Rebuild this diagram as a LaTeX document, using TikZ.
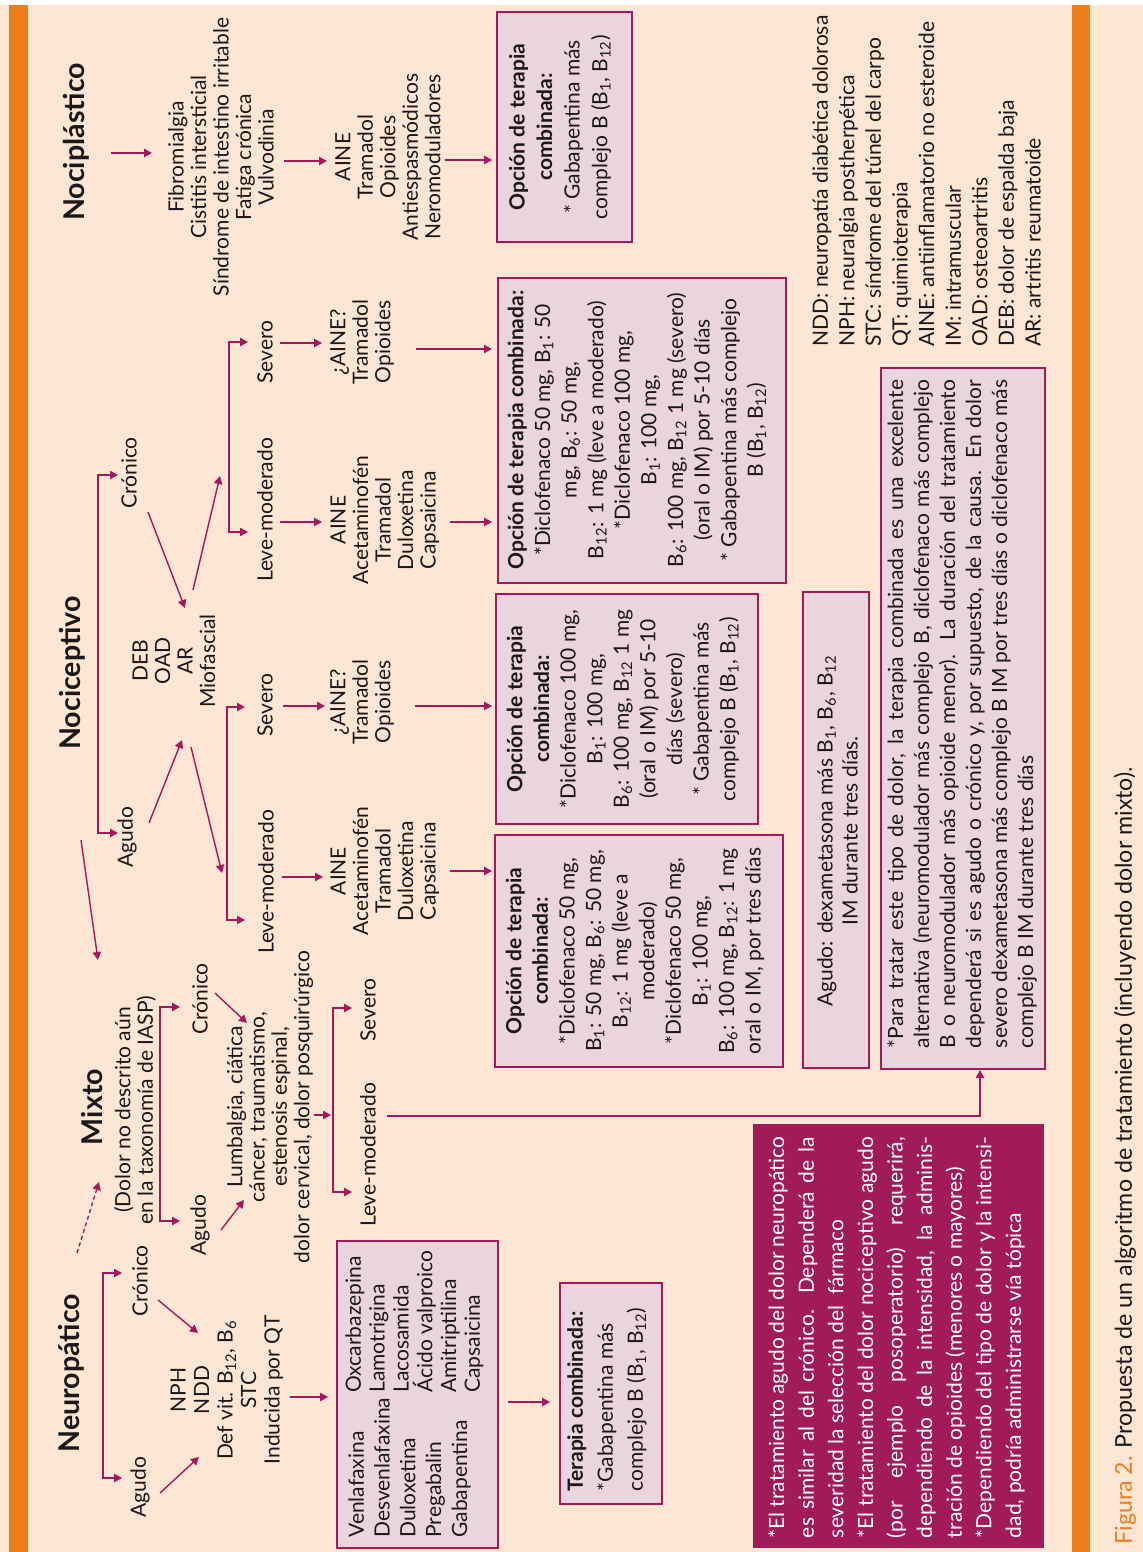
\documentclass[tikz,border=0pt]{standalone}
\usepackage{fontspec}
\setmainfont{Lato}
\usetikzlibrary{arrows.meta}
\definecolor{bgpeach}{RGB}{253,230,212}
\definecolor{orng}{RGB}{238,125,28}
\definecolor{crim}{RGB}{163,25,91}
\definecolor{boxfill}{RGB}{234,212,221}
\definecolor{darkbox}{RGB}{161,26,90}
\definecolor{ink}{RGB}{28,24,25}
\newcommand{\bsub}[1]{B\textsubscript{#1}}
\newcommand{\fsz}[2]{\fontsize{#1}{#2}\selectfont\lineskiplimit-20pt\relax}
\newcommand{\jl}[2]{\makebox[#1][s]{#2}}
\begin{document}
\begin{tikzpicture}[x=0.5pt,y=-0.5pt,
  txt/.style={rotate=90,inner sep=0pt,align=center,text=ink,font=\fsz{10.5}{11.25}},
  boxt/.style={txt,font=\fsz{10.5}{13.3}},
  ttl/.style={rotate=90,inner sep=0pt,text=ink,font=\fsz{14.3}{16}\bfseries},
  frame/.style={rotate=90,draw=crim,line width=1pt,fill=boxfill,inner sep=0pt},
  arr/.style={draw=crim,line width=0.7pt,-{Triangle[length=4pt,width=4.2pt]}},
  arr2/.style={draw=crim,line width=0.7pt,{Triangle[length=4pt,width=4.2pt]}-{Triangle[length=4pt,width=4.2pt]}},
  dsh/.style={arr,dash pattern=on 2pt off 1.5pt},
]
\useasboundingbox (0,0) rectangle (1143,1552);
\fill[white] (0,0) rectangle (1143,1552);
\fill[bgpeach] (0,5) rectangle (1143,1552);
\fill[orng] (9,5) rectangle (28,1552);
\fill[orng] (1072,5) rectangle (1090,1552);

% ---------------- boxes ----------------
\node[frame,minimum width=115pt,minimum height=67.5pt] (bNoci) at (564.5,127) {};
\node[frame,minimum width=152.5pt,minimum height=144pt] (bCron) at (642,430.5) {};
\node[frame,minimum width=115pt,minimum height=131pt] (bAgSev) at (627,709) {};
\node[frame,minimum width=116pt,minimum height=144pt] (bAgLev) at (639,951) {};
\node[frame,minimum width=153.5pt,minimum height=80.5pt] (bNeuro) at (417.5,1394.5) {};
\node[frame,minimum width=110.5pt,minimum height=51pt] (bTer) at (611,1393.5) {};
\node[frame,minimum width=238pt,minimum height=33pt] (bDexa) at (836,830) {};
\node[frame,minimum width=350.5pt,minimum height=82pt] (bNote) at (963,718.5) {};
\node[rotate=90,fill=darkbox,inner sep=0pt,minimum width=212pt,minimum height=145.5pt] (bDark) at (898.5,1336) {};

% ---------------- titles ----------------
\node[ttl] (tNocip) at (76,142) {Nociplástico};
\node[ttl] (tNocic) at (72,673) {Nociceptivo};
\node[ttl] (tMixto) at (92,1107) {Mixto};
\node[ttl] (tNeuro) at (71,1373) {Neuropático};

% ---------------- Nociplástico ----------------
\node[txt] (lNocip) at (221,157) {Fibromialgia\\Cistitis intersticial\\Síndrome de intestino irritable\\Fatiga crónica\\Vulvodinia};
\node[txt] (dNocip) at (388,157) {AINE\\Tramadol\\Opioides\\Antiespasmódicos\\Neromoduladores};
\node[boxt,font=\fsz{10.5}{13.8}] (cNocip) at (560,127) {\textbf{Opción de terapia}\\\textbf{combinada:}\\* Gabapentina más\\complejo B (\bsub{1}, \bsub{12})};

% ---------------- Nociceptivo ----------------
\node[txt] (nCron) at (129,473) {Crónico};
\node[txt] (nAg) at (127,837) {Agudo};
\node[txt] (nDeb) at (174,661) {DEB\\OAD\\AR\\Miofascial};
\node[txt] (nCSev) at (265,352) {Severo};
\node[txt] (nCLev) at (265,510) {Leve-moderado};
\node[txt] (nASev) at (265,705) {Severo};
\node[txt] (nALev) at (266,882) {Leve-moderado};
\node[txt] (nCSevD) at (362,342) {¿AINE?\\Tramadol\\Opioides};
\node[txt] (nCLevD) at (385,520) {AINE\\Acetaminofén\\Tramadol\\Duloxetina\\Capsaicina};
\node[txt] (nASevD) at (362,702) {¿AINE?\\Tramadol\\Opioides};
\node[txt] (nALevD) at (385,871) {AINE\\Acetaminofén\\Tramadol\\Duloxetina\\Capsaicina};
\node[boxt] (cCron) at (637,430) {\textbf{Opción de terapia combinada:}\\*Diclofenaco 50 mg, \bsub{1}: 50\\mg, \bsub{6}: 50 mg,\\\bsub{12}: 1 mg (leve a moderado)\\*Diclofenaco 100 mg,\\\bsub{1}: 100 mg,\\\bsub{6}: 100 mg, \bsub{12} 1 mg (severo)\\(oral o IM) por 5-10 días\\* Gabapentina más complejo\\B (\bsub{1}, \bsub{12})};
\node[boxt] (cAgSev) at (623,709) {\textbf{Opción de terapia}\\\textbf{combinada:}\\*Diclofenaco 100 mg,\\\bsub{1}: 100 mg,\\\bsub{6}: 100 mg, \bsub{12} 1 mg\\(oral o IM) por 5-10\\días (severo)\\* Gabapentina más\\complejo B (\bsub{1}, \bsub{12})};
\node[boxt] (cAgLev) at (635,951) {\textbf{Opción de terapia}\\\textbf{combinada:}\\*Diclofenaco 50 mg,\\\bsub{1}: 50 mg, \bsub{6}: 50 mg,\\\bsub{12}: 1 mg (leve a\\moderado)\\*Diclofenaco 50 mg,\\\bsub{1}: 100 mg,\\\bsub{6}: 100 mg, \bsub{12}: 1 mg\\oral o IM, por tres días};

% ---------------- Mixto ----------------
\node[txt] (mSub) at (135,1110) {(Dolor no descrito aún\\en la taxonomía de IASP)};
\node[txt] (mCron) at (200,999) {Crónico};
\node[txt] (mAg) at (200,1225) {Agudo};
\node[txt,font=\fsz{10.5}{11.15}] (mLumb) at (270,1107) {Lumbalgia, ciática\\cáncer, traumatismo,\\estenosis espinal,\\dolor cervical, dolor posquirúrgico};
\node[txt] (mSev) at (368,1010) {Severo};
\node[txt] (mLev) at (368,1155) {Leve-moderado};

% ---------------- Neuropático ----------------
\node[txt] (eCron) at (140,1281) {Crónico};
\node[txt] (eAg) at (140,1487) {Agudo};
\node[txt,font=\fsz{10.5}{11.75}] (eList) at (227,1390) {NPH\\NDD\\Def vit. \bsub{12}, \bsub{6}\\STC\\Inducida por QT};
\node[txt,align=left,anchor=west,font=\fsz{10.5}{12.9}] (eCol1) at (409.5,1538) {Venlafaxina\\Desvenlafaxina\\Duloxetina\\Pregabalin\\Gabapentina};
\node[txt,align=left,anchor=west,font=\fsz{10.5}{11.9}] (eCol2) at (414.5,1393) {Oxcarbazepina\\Lamotrigina\\Lacosamida\\Ácido valproico\\Amitriptilina\\Capsaicina};
\node[txt,align=left,anchor=west,font=\fsz{10.5}{15}] (eTer) at (607,1492) {\textbf{Terapia combinada:}\\*Gabapentina más\\complejo B (\bsub{1}, \bsub{12})};

% ---------------- right column ----------------
\node[txt,font=\fsz{10.5}{12.5}] (rDexa) at (837.5,831) {Agudo: dexametasona más \bsub{1}, \bsub{6}, \bsub{12}\\IM durante tres días.};
\node[txt,align=left,font=\fsz{10.5}{13}] (rNote) at (962,714) {%
\jl{334pt}{*Para tratar este tipo de dolor, la terapia combinada es una excelente}\\
\jl{334pt}{alternativa (neuromodulador más complejo B, diclofenaco más complejo}\\
\jl{334pt}{B o neuromodulador más opioide menor). La duración del tratamiento}\\
\jl{334pt}{dependerá si es agudo o crónico y, por supuesto, de la causa. En dolor}\\
\jl{334pt}{severo dexametasona más complejo B IM por tres días o diclofenaco más}\\
complejo B IM durante tres días};
\node[txt,align=left,anchor=west,font=\fsz{10.5}{13.3}] (rAbbr) at (926.5,347) {NDD: neuropatía diabética dolorosa\\NPH: neuralgia postherpética\\STC: síndrome del túnel del carpo\\QT: quimioterapia\\AINE: antiinflamatorio no esteroide\\IM: intramuscular\\OAD: osteoartritis\\DEB: dolor de espalda baja\\AR: artritis reumatoide};
\node[txt,align=left,text=white,font=\fsz{10.5}{14.8}] (rDark) at (896.5,1337.5) {%
\jl{200.5pt}{*El tratamiento agudo del dolor neuropático}\\
\jl{200.5pt}{es similar al del crónico. Dependerá de la}\\
severidad la selección del \ fármaco\\
\jl{200.5pt}{*El tratamiento del dolor nociceptivo agudo}\\
\jl{200.5pt}{(por ejemplo posoperatorio) requerirá,}\\
\jl{200.5pt}{dependiendo de la intensidad, la adminis-}\\
tración de opioides (menores o mayores)\\
\jl{200.5pt}{*Dependiendo del tipo de dolor y la intensi-}\\
dad, podría administrarse vía tópica};
\node[txt,anchor=west,font=\fsz{11.6}{14}] (caption) at (1125,1545) {\textcolor{orng}{Figura 2.} Propuesta de un algoritmo de tratamiento (incluyendo dolor mixto).};

% ---------------- connector coordinates ----------------
\coordinate (p1a) at (111,153); \coordinate (p1b) at (152,153);
\coordinate (p2a) at (284,161); \coordinate (p2b) at (327,161);
\coordinate (p3a) at (445,160); \coordinate (p3b) at (492,160);
\coordinate (q1) at (118,475); \coordinate (q2) at (98,475); \coordinate (q3) at (98,833); \coordinate (q4) at (118,833);
\coordinate (q5a) at (148,512); \coordinate (q5b) at (185,608);
\coordinate (q6a) at (149,823); \coordinate (q6b) at (182,740);
\coordinate (q7a) at (193,590); \coordinate (q7b) at (220,476);
\coordinate (q8a) at (191,747); \coordinate (q8b) at (222,873);
\coordinate (r1) at (248,342); \coordinate (r2) at (229,342); \coordinate (r3) at (229,532); \coordinate (r4) at (248,532);
\coordinate (s1) at (245,707); \coordinate (s2) at (227,707); \coordinate (s3) at (227,920); \coordinate (s4) at (245,920);
\coordinate (t1a) at (280,343); \coordinate (t1b) at (322,343);
\coordinate (t2a) at (280,522); \coordinate (t2b) at (322,522);
\coordinate (t3a) at (283,706); \coordinate (t3b) at (325,706);
\coordinate (t4a) at (282,877); \coordinate (t4b) at (323,877);
\coordinate (u1a) at (416,349); \coordinate (u1b) at (492,349);
\coordinate (u2a) at (450,522); \coordinate (u2b) at (492,522);
\coordinate (u3a) at (415,706); \coordinate (u3b) at (492,706);
\coordinate (u4a) at (450,871); \coordinate (u4b) at (492,871);
\coordinate (x1a) at (81,840); \coordinate (x1b) at (98,960);
\coordinate (x2a) at (77,1253); \coordinate (x2b) at (99,1182);
\coordinate (m1) at (180,1007); \coordinate (m2) at (160,1007); \coordinate (m3) at (160,1221); \coordinate (m4) at (180,1221);
\coordinate (m5a) at (215,993); \coordinate (m5b) at (247,1023);
\coordinate (m6a) at (221,1230); \coordinate (m6b) at (244,1200);
\coordinate (m7a) at (314,1115); \coordinate (m7b) at (331,1115);
\coordinate (n1) at (352,1008); \coordinate (n2) at (333,1008); \coordinate (n3) at (333,1192); \coordinate (n4) at (352,1192);
\coordinate (o1) at (387,1116); \coordinate (o2) at (980,1116); \coordinate (o3) at (980,1070);
\coordinate (e1) at (122,1273); \coordinate (e2) at (103,1273); \coordinate (e3) at (103,1478); \coordinate (e4) at (122,1478);
\coordinate (e5a) at (158,1300); \coordinate (e5b) at (198,1333);
\coordinate (e6a) at (160,1493); \coordinate (e6b) at (199,1457);
\coordinate (e7a) at (290,1397); \coordinate (e7b) at (328,1397);
\coordinate (e8a) at (508,1402); \coordinate (e8b) at (550,1402);

% ---------------- connectors ----------------
\draw[arr] (p1a) -- (p1b);
\draw[arr] (p2a) -- (p2b);
\draw[arr] (p3a) -- (p3b);
\draw[arr2] (q1) -- (q2) -- (q3) -- (q4);
\draw[arr] (q5a) -- (q5b);
\draw[arr] (q6a) -- (q6b);
\draw[arr] (q7a) -- (q7b);
\draw[arr] (q8a) -- (q8b);
\draw[arr2] (r1) -- (r2) -- (r3) -- (r4);
\draw[arr2] (s1) -- (s2) -- (s3) -- (s4);
\draw[arr] (t1a) -- (t1b);
\draw[arr] (t2a) -- (t2b);
\draw[arr] (t3a) -- (t3b);
\draw[arr] (t4a) -- (t4b);
\draw[arr] (u1a) -- (u1b);
\draw[arr] (u2a) -- (u2b);
\draw[arr] (u3a) -- (u3b);
\draw[arr] (u4a) -- (u4b);
\draw[arr] (x1a) -- (x1b);
\draw[dsh] (x2a) -- (x2b);
\draw[arr2] (m1) -- (m2) -- (m3) -- (m4);
\draw[arr] (m5a) -- (m5b);
\draw[arr] (m6a) -- (m6b);
\draw[arr] (m7a) -- (m7b);
\draw[arr2] (n1) -- (n2) -- (n3) -- (n4);
\draw[arr] (o1) -- (o2) -- (o3);
\draw[arr2] (e1) -- (e2) -- (e3) -- (e4);
\draw[arr] (e5a) -- (e5b);
\draw[arr] (e6a) -- (e6b);
\draw[arr] (e7a) -- (e7b);
\draw[arr] (e8a) -- (e8b);
\end{tikzpicture}
\end{document}
